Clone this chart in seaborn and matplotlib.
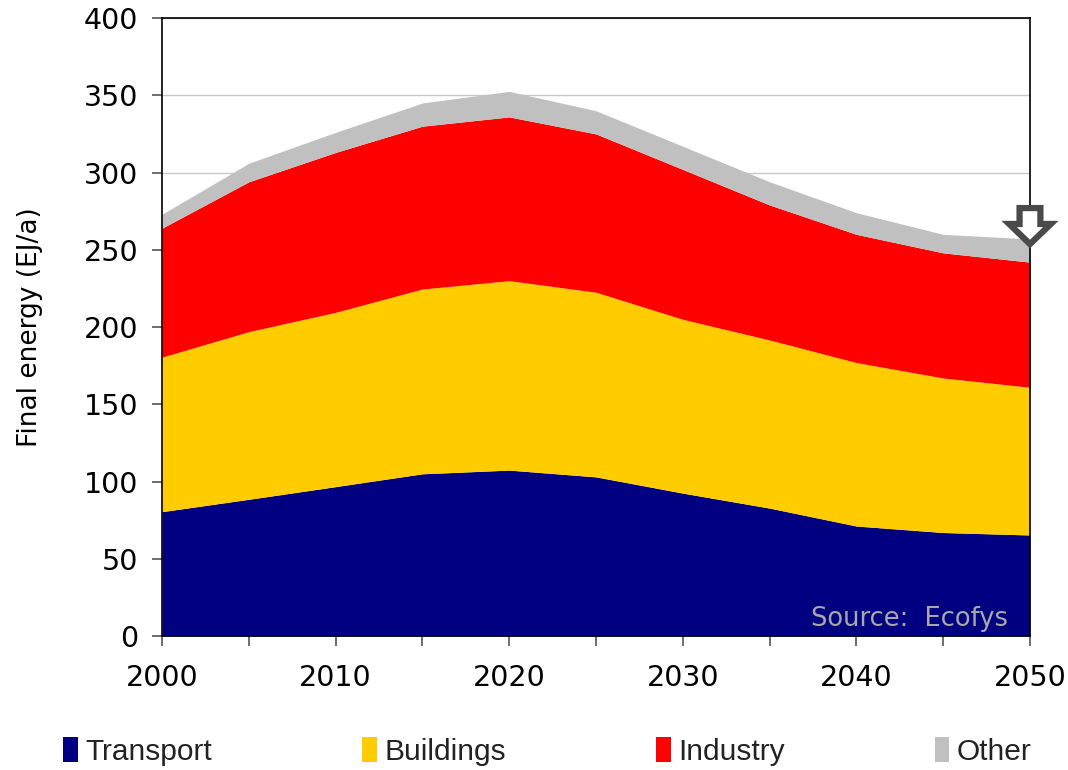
import pandas as pd
import matplotlib.pyplot as plt
from matplotlib.patches import Patch, Polygon
import seaborn as sns

# ---- data (EJ/a) ----
years = [2000, 2005, 2010, 2015, 2020, 2025, 2030, 2035, 2040, 2045, 2050]
transport = [80.5, 88.5, 96.7, 105, 107.4, 103, 92.5, 82.8, 71.2, 67, 65.4]
buildings = [100, 108.5, 112.8, 119.6, 122.6, 119.5, 112.5, 108.8, 105.8, 100, 95.6]
industry = [83.5, 97, 103.5, 105.4, 106, 102.5, 97, 87.4, 83, 81, 81]
other = [9, 12, 13, 15, 16.5, 15, 15, 15, 14, 12, 15]

sectors = ["Transport", "Buildings", "Industry", "Other"]
colors = ["#000080", "#FFCC00", "#FF0000", "#C0C0C0"]

df = pd.DataFrame({"year": years, "Transport": transport, "Buildings": buildings,
                   "Industry": industry, "Other": other})

sns.set_theme(style="white")
plt.rcParams["font.family"] = ["DejaVu Sans"]

fig = plt.figure(figsize=(10.68, 7.70), dpi=100)
ax = fig.add_axes([0.1517, 0.174, 0.8127, 0.8026])

ax.stackplot(df["year"], [df[s] for s in sectors], colors=colors, linewidth=0, zorder=2)

ax.set_xlim(2000, 2050)
ax.set_ylim(0, 400)
ax.set_xticks(range(2000, 2051, 10))
ax.set_xticks(range(2005, 2050, 10), minor=True)
ax.set_yticks(range(0, 401, 50))
ax.yaxis.grid(True, color="#C8C8C8", linewidth=1)
ax.set_axisbelow(True)

for sp in ax.spines.values():
    sp.set_color("black")
    sp.set_linewidth(1.2)
    sp.set_zorder(3)

ax.tick_params(axis="y", which="major", direction="out", length=7, width=1.2,
               color="#555555", labelcolor="black", labelsize=20.5, pad=10, left=True)
ax.tick_params(axis="x", which="both", direction="out", length=7, width=1.2,
               color="#555555", labelcolor="black", labelsize=20.5, pad=13, bottom=True)

fig.text(0.028, 0.575, "Final energy (EJ/a)", rotation=90, ha="center", va="center",
         fontsize=19, color="black")

ax.text(0.975, 0.006, "Source:  Ecofys", transform=ax.transAxes, ha="right", va="bottom",
        fontsize=18.5, color="#A8A8A8", zorder=4)

# hollow down arrow marking 2050
arrow = Polygon([(2049.4, 277), (2050.6, 277), (2050.6, 266.7), (2051.2, 266.7),
                 (2050, 253.7), (2048.8, 266.7), (2049.4, 266.7)],
                closed=True, facecolor="white", edgecolor="#4A4A4A", linewidth=4.5,
                joinstyle="miter", clip_on=False, zorder=5)
ax.add_patch(arrow)

handles = [Patch(facecolor=c, edgecolor="none") for c in colors]
leg = fig.legend(handles, sectors, loc="lower left", ncol=4, mode="expand",
                 bbox_to_anchor=(0.045, -0.014, 0.935, 0.05), frameon=False,
                 prop={"family": "Liberation Sans", "size": 21.5},
                 handlelength=0.5, handleheight=0.9, handletextpad=0.25, borderaxespad=0.1)
for t in leg.get_texts():
    t.set_color("#222222")

fig.savefig("out.png", dpi=100)
